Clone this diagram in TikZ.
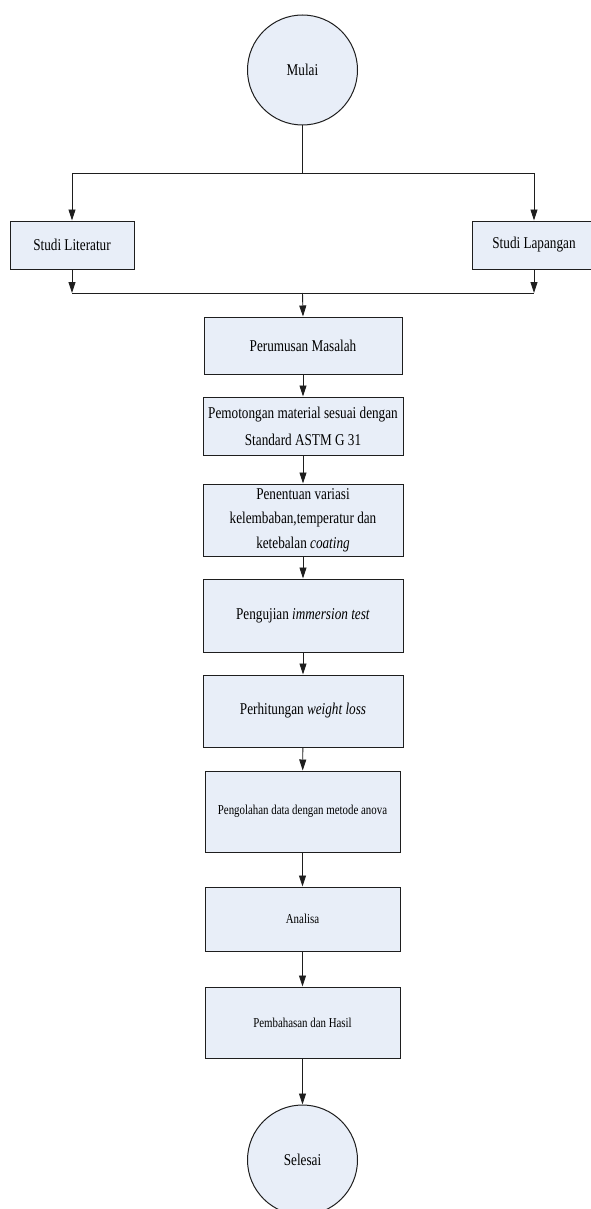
\documentclass[tikz,border=0pt]{standalone}
\usepackage{fontspec}
\setmainfont{Liberation Serif}[FakeStretch=0.8]
\usetikzlibrary{arrows.meta}
\definecolor{boxfill}{RGB}{232,238,248}
\definecolor{edge}{RGB}{30,30,30}
\begin{document}
\begin{tikzpicture}[x=1pt,y=-1pt,
  base/.style={draw=edge, fill=boxfill, line width=1pt, inner sep=2pt, align=center},
  big/.style={font=\fontsize{16.5}{27}\selectfont},
  small/.style={font=\fontsize{13.6}{20}\selectfont},
  proc/.style={base, rectangle},
  term/.style={base, circle, minimum size=110pt, big},
  arr/.style={draw=edge, line width=0.9pt, -{Triangle[length=11pt,width=7pt]}},
  ln/.style={draw=edge, line width=0.9pt}
]
\useasboundingbox (0,0) rectangle (591,1209);

\node[term] (mulai) at (302.5,70) {Mulai};
\node[proc, big, minimum width=124pt, minimum height=48pt] (lit) at (72,245) {Studi Literatur};
\node[proc, big, minimum width=124pt, minimum height=48pt] (lap) at (534,245) {Studi Lapangan};
\node[proc, big, minimum width=198pt, minimum height=57pt] (rumus) at (303,345.5) {Perumusan Masalah};
\node[proc, big, minimum width=200pt, minimum height=58pt] (potong) at (303,426) {Pemotongan material sesuai dengan\\Standard ASTM G 31};
\node[proc, font=\fontsize{16.5}{24.5}\selectfont, minimum width=200pt, minimum height=72pt] (tentu) at (303,520) {Penentuan variasi\\kelembaban,temperatur dan\\ketebalan \textit{coating}};
\node[proc, big, minimum width=200pt, minimum height=73pt] (uji) at (303,615.5) {Pengujian \textit{immersion test}};
\node[proc, big, minimum width=200pt, minimum height=72pt] (hitung) at (303,711) {Perhitungan \textit{weight loss}};
\node[proc, small, minimum width=195pt, minimum height=81pt] (olah) at (302.5,811.5) {Pengolahan data dengan metode anova};
\node[proc, small, minimum width=195pt, minimum height=64pt] (analisa) at (302.5,919) {Analisa};
\node[proc, small, minimum width=195pt, minimum height=71pt] (bahas) at (302.5,1022.5) {Pembahasan dan Hasil};
\node[term] (selesai) at (302.5,1160) {Selesai};

\coordinate (top) at (302.5,173);
\coordinate (bot) at (302.5,293);

\draw[ln] (mulai.south) -- (top);
\draw[arr] (top) -| (lit.north);
\draw[arr] (top) -| (lap.north);
\draw[arr] (lit.south) -- (lit.south |- bot);
\draw[arr] (lap.south) -- (lap.south |- bot);
\draw[ln] (lit.south |- bot) -- (lap.south |- bot);
\draw[arr] (bot) -- (rumus.north);
\draw[arr] (rumus) -- (potong);
\draw[arr] (potong) -- (tentu);
\draw[arr] (tentu) -- (uji);
\draw[arr] (uji) -- (hitung);
\draw[arr] (hitung) -- (olah);
\draw[arr] (olah) -- (analisa);
\draw[arr] (analisa) -- (bahas);
\draw[arr] (bahas) -- (selesai);
\end{tikzpicture}
\end{document}
